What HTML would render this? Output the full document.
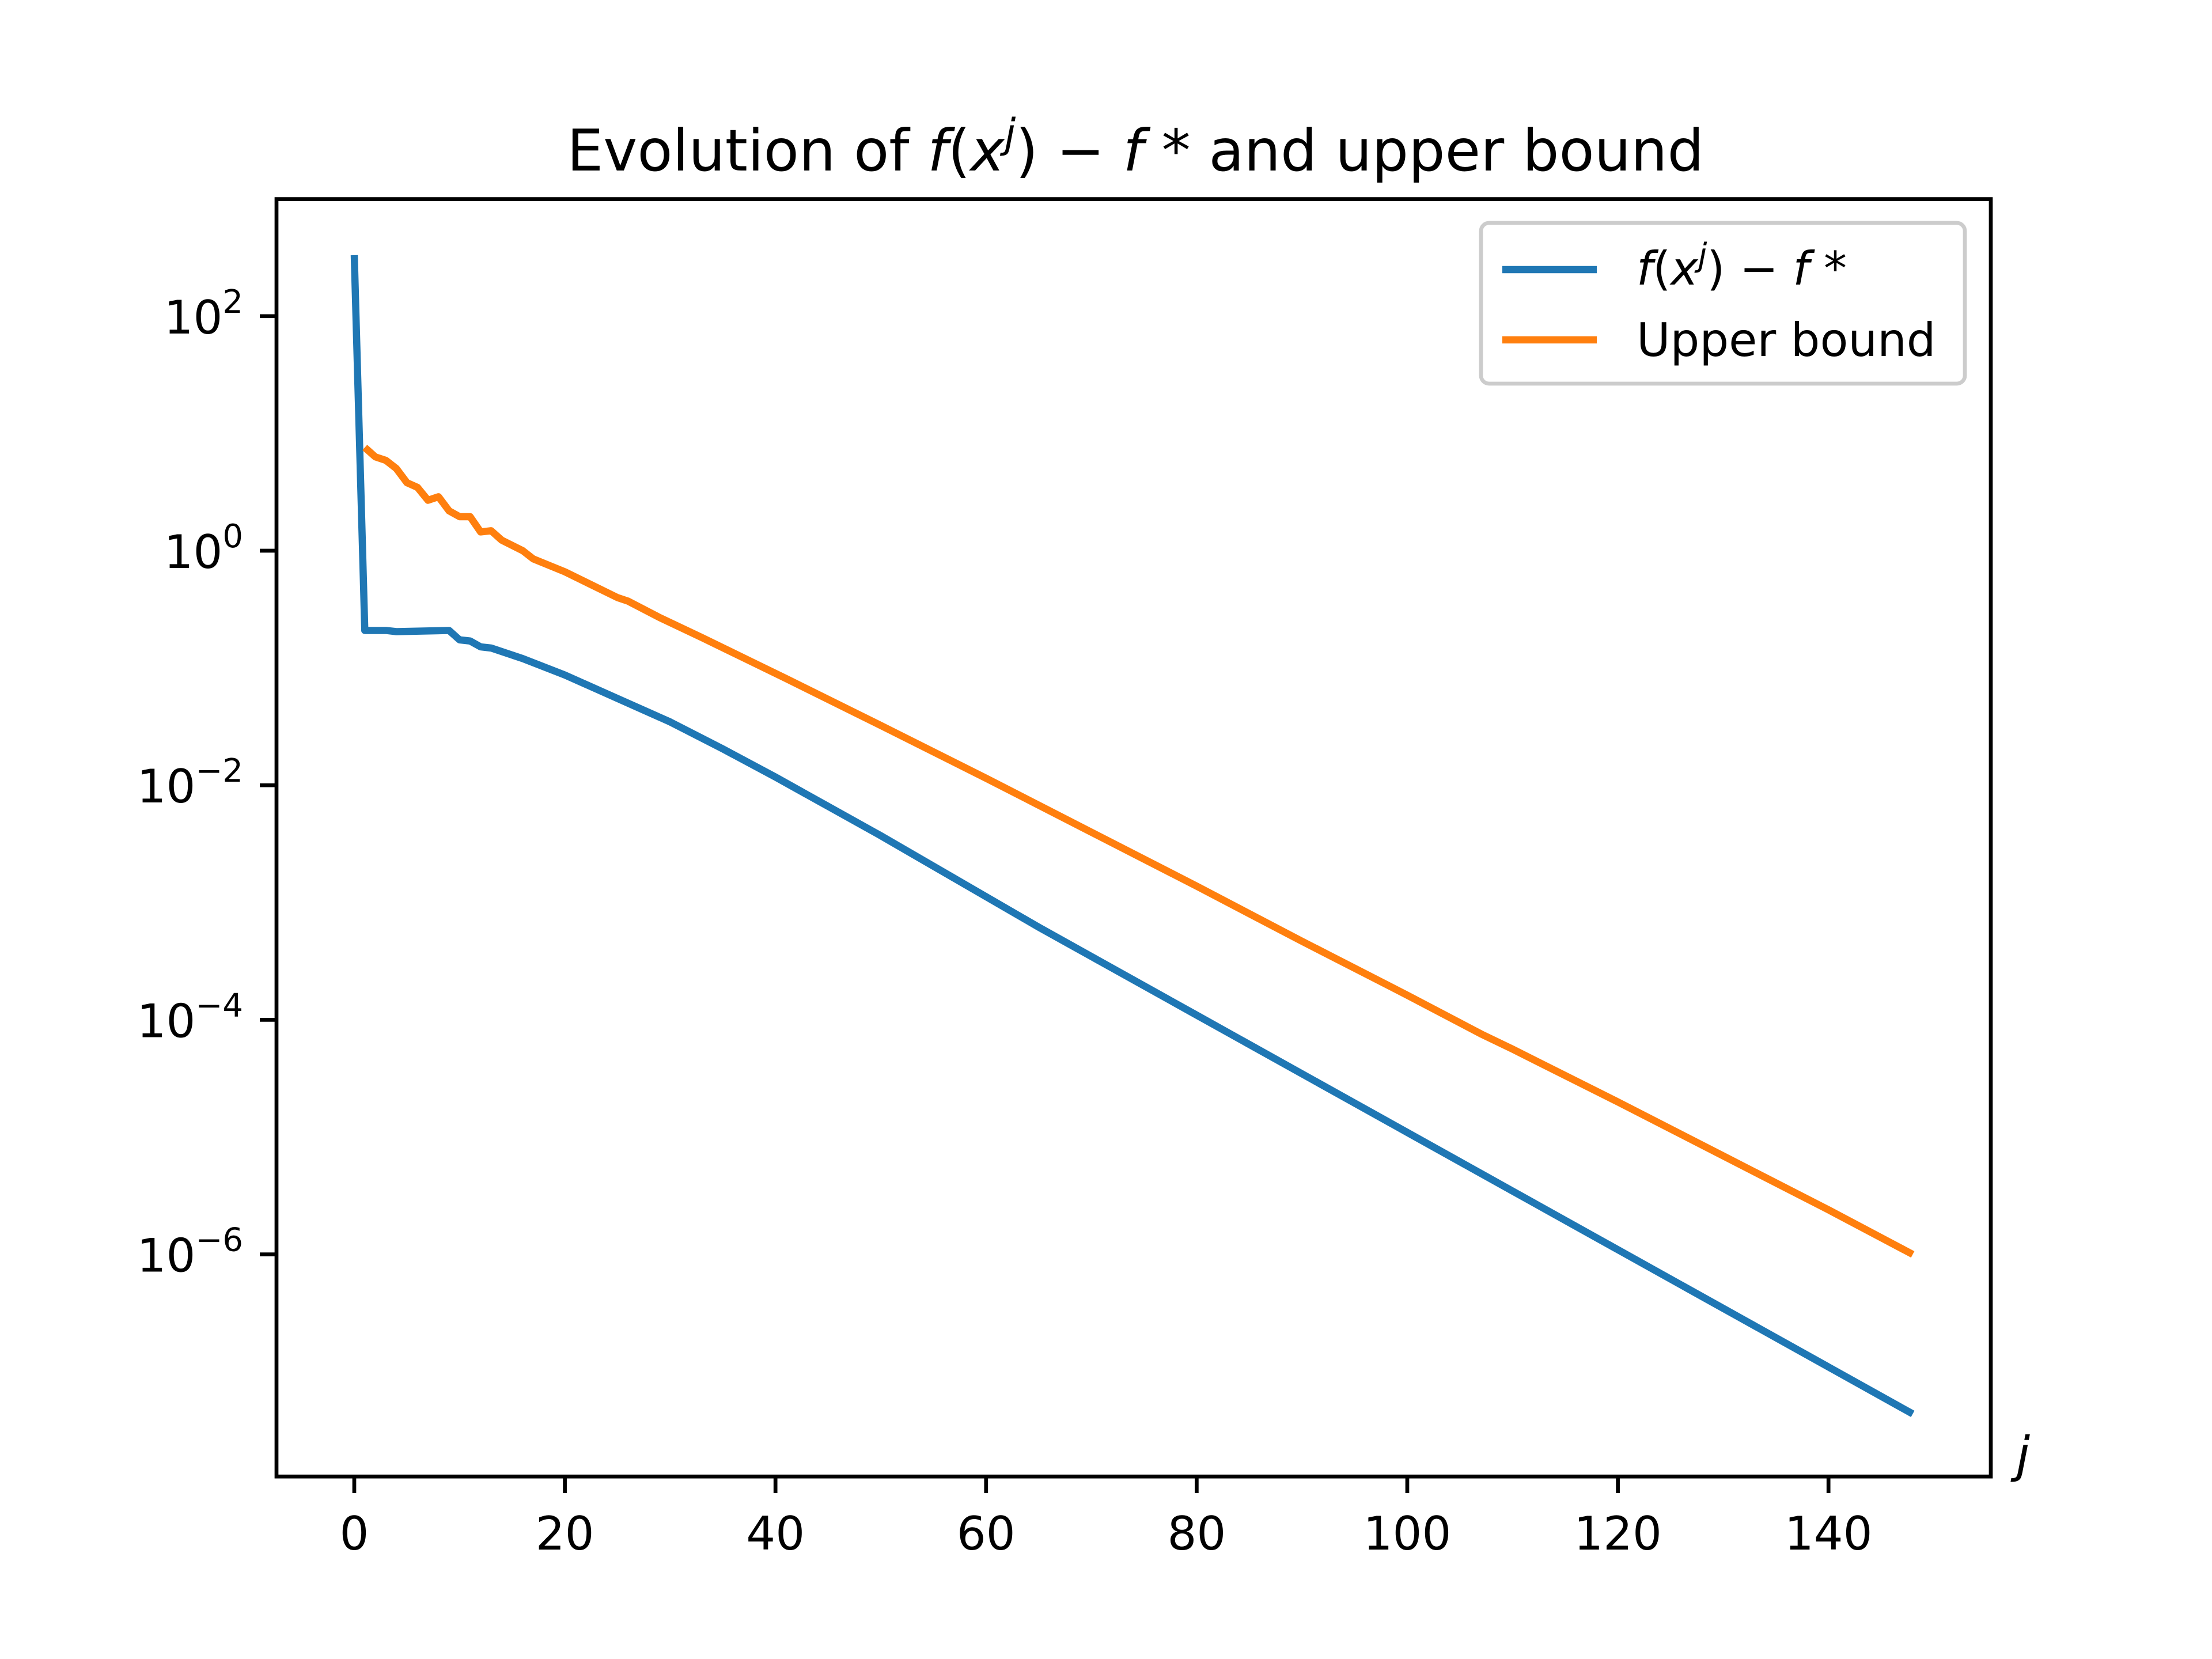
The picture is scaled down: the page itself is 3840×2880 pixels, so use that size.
<!DOCTYPE html>
<html><head><meta charset="utf-8"><style>
html,body{margin:0;padding:0;background:#fff}
svg{display:block}
text{font-family:"DejaVu Sans","Liberation Sans",sans-serif;fill:#000}
</style></head><body>
<svg id="chart" width="3840" height="2880" viewBox="0 0 3840 2880" xmlns="http://www.w3.org/2000/svg">
<rect width="3840" height="2880" fill="#fff"/>
<text x="1971" y="296" font-size="100" text-anchor="middle">Evolution of <tspan font-style="italic">f</tspan>(<tspan font-style="italic">x</tspan><tspan font-style="italic" font-size="70" dy="-40">j</tspan><tspan dy="40">) − </tspan><tspan font-style="italic">f</tspan> *  and upper bound</text>
<g id="xticks"></g>
<g id="yticks"></g>
<g id="series"></g>
<rect x="480" y="345.6" width="2976" height="2217.6" fill="none" stroke="#000" stroke-width="6.7"/>
<text x="3500" y="2555" font-size="86" font-style="italic">j</text>
<g>
<rect x="2571" y="387" width="840" height="279" rx="14" fill="#fff" fill-opacity="0.8" stroke="#ccc" stroke-width="6.7"/>
<line x1="2608" y1="468" x2="2772" y2="468" stroke="#1f77b4" stroke-width="12.5"/>
<text x="2841" y="494" font-size="80"><tspan font-style="italic">f</tspan>(<tspan font-style="italic">x</tspan><tspan font-style="italic" font-size="56" dy="-32">j</tspan><tspan dy="32">) − </tspan><tspan font-style="italic">f</tspan> *</text>
<line x1="2608" y1="590" x2="2772" y2="590" stroke="#ff7f0e" stroke-width="12.5"/>
<text x="2841" y="618" font-size="80">Upper bound</text>
</g>
</svg>
<script>
const xTicks=[0,20,40,60,80,100,120,140];
const yTickExp=[2,0,-2,-4,-6];
const blueJ=[0,1,3,4,9,10,11,12,13,14,16,20,25,30,35,40,45,50,55,60,65,70,80,90,100,110,120,130,140,148];
const blueLog10=[2.52,-0.68,-0.68,-0.69,-0.68,-0.76,-0.77,-0.82,-0.83,-0.86,-0.92,-1.06,-1.26,-1.46,-1.69,-1.93,-2.18,-2.43,-2.69,-2.95,-3.21,-3.46,-3.96,-4.46,-4.96,-5.46,-5.96,-6.46,-6.96,-7.36];
const orangeJ=[1,2,3,4,5,6,7,8,9,10,11,12,13,14,16,17,20,25,26,29,33,41,50,60,65,70,80,90,100,107,110,120,130,140,148];
const orangeLog10=[0.88,0.8,0.77,0.7,0.58,0.54,0.43,0.46,0.34,0.29,0.29,0.16,0.17,0.09,0.0,-0.07,-0.18,-0.4,-0.43,-0.57,-0.74,-1.09,-1.49,-1.94,-2.17,-2.4,-2.86,-3.33,-3.79,-4.12,-4.25,-4.7,-5.16,-5.62,-6.0];
const NS='http://www.w3.org/2000/svg';
function X(j){return 615+j*18.28;}
function Y(lg){return 956-lg*203.6;}
function mk(t,a,p){const e=document.createElementNS(NS,t);for(const k in a)e.setAttribute(k,a[k]);p.appendChild(e);return e;}
const xg=document.getElementById('xticks'),yg=document.getElementById('yticks'),sg=document.getElementById('series');
xTicks.forEach(t=>{
 const l=mk('line',{x1:X(t),x2:X(t),y1:2563,y2:2592,stroke:'#000','stroke-width':6.7},xg);
 
 
 const tx=mk('text',{x:X(t),y:2690,'font-size':80,'text-anchor':'middle'},xg);
 tx.textContent=t;
 
 
});
yTickExp.forEach(e=>{
 const y=Y(e);
 const l=mk('line',{x1:451,x2:480,y1:y,y2:y,stroke:'#000','stroke-width':6.7},yg);
 
 
 const tx=mk('text',{x:422,y:y+30,'font-size':80,'text-anchor':'end'},yg);
 tx.innerHTML='10<tspan font-size="56" dy="-36">'+(e<0?'−'+(-e):e)+'</tspan>';
 
 
});
function line(J,V,c,n){
 const p=mk('polyline',{points:J.map((j,i)=>X(j)+','+Y(V[i])).join(' '),fill:'none',stroke:c,'stroke-width':12.5,'stroke-linejoin':'round'},sg);
 
 
}
line(blueJ,blueLog10,'#1f77b4','series-f-gap');
line(orangeJ,orangeLog10,'#ff7f0e','series-upper-bound');
</script>
</body></html>
